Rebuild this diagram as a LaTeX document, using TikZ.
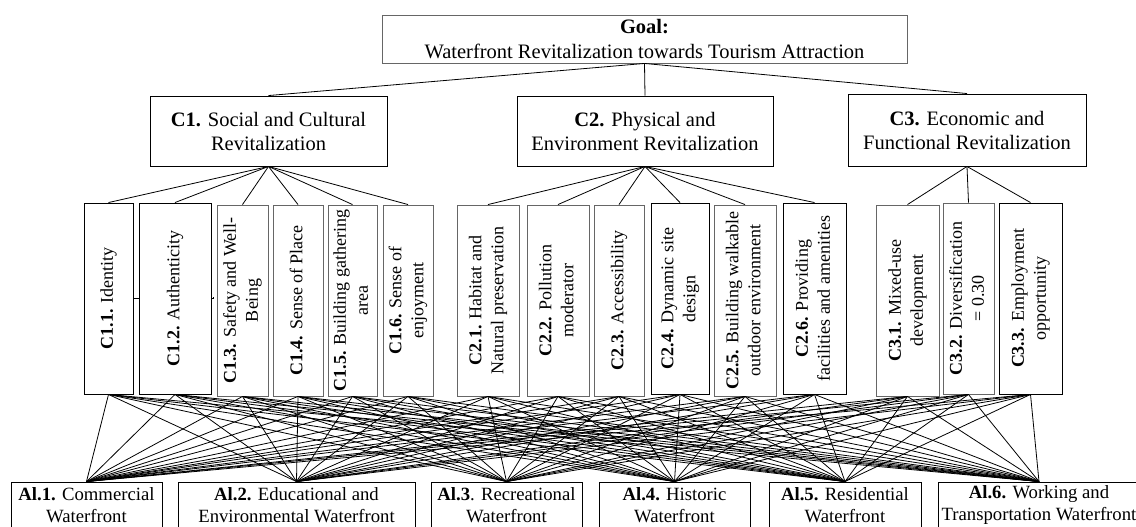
\documentclass[tikz,border=0pt]{standalone}
\usepackage{fontspec}
\usepackage{graphicx}
\setmainfont{Liberation Serif}
\tikzset{
  boxbase/.style={draw=black, line width=0.9pt, inner sep=0pt, align=center, fill=white},
  grayb/.style={boxbase, draw=black!60},
  blackb/.style={boxbase},
  bigtext/.style={font=\fontsize{20.5}{24}\selectfont},
  alttext/.style={font=\fontsize{18.7}{22}\selectfont},
  goaltext/.style={font=\fontsize{20.5}{25}\selectfont},
  conn/.style={draw=black, line width=0.8pt},
}
\newcommand{\mybox}[7]{\node[#6, minimum width={(#4-#2)*1pt}, minimum height={(#5-#3)*1pt}] (#1) at ({(#2+#4)/2},{(#3+#5)/2}) {#7};}
\newcommand{\vtext}[1]{\rotatebox{90}{\fontsize{18}{22}\selectfont\begin{tabular}{@{}c@{}}#1\end{tabular}}}
\begin{document}
\begin{tikzpicture}[x=1pt,y=-1pt]
\useasboundingbox (0,0) rectangle (1136,527);
\clip (0,0) rectangle (1136,527);
% goal
\mybox{goal}{382}{15}{907}{63}{grayb,goaltext}{\textbf{Goal:}\\Waterfront Revitalization towards Tourism Attraction}
% criteria
\mybox{c1}{150}{96}{387}{166}{blackb,bigtext}{\textbf{C1.} Social and Cultural\\Revitalization}
\mybox{c2}{517}{96}{773}{166}{blackb,bigtext}{\textbf{C2.} Physical and\\Environment Revitalization}
\mybox{c3}{848}{94}{1086}{166}{blackb,bigtext}{\textbf{C3.} Economic and\\Functional Revitalization}
% sub-criteria
\mybox{c11}{84}{203}{133}{394}{blackb}{\vtext{\textbf{C1.1.} Identity}}
\mybox{c12}{139}{203}{211}{394}{blackb}{\vtext{\textbf{C1.2.} Authenticity}}
\mybox{c13}{217}{205}{268}{396}{grayb}{\vtext{\textbf{C1.3.} Safety and Well-\\Being}}
\mybox{c14}{273}{205}{323}{396}{grayb}{\vtext{\textbf{C1.4.} Sense of Place}}
\mybox{c15}{328}{205}{377}{396}{grayb}{\vtext{\textbf{C1.5.} Building gathering\\area}}
\mybox{c16}{383}{205}{433}{396}{grayb}{\vtext{\textbf{C1.6.} Sense of\\enjoyment}}
\mybox{c21}{457}{205}{519}{396}{grayb}{\vtext{\textbf{C2.1.} Habitat and\\Natural preservation}}
\mybox{c22}{527}{205}{589}{396}{grayb}{\vtext{\textbf{C2.2.} Pollution\\moderator}}
\mybox{c23}{594}{205}{644}{396}{grayb}{\vtext{\textbf{C2.3.} Accessibility}}
\mybox{c24}{651}{203}{709}{394}{blackb}{\vtext{\textbf{C2.4.} Dynamic site\\design}}
\mybox{c25}{714}{205}{776}{396}{grayb}{\vtext{\textbf{C2.5.} Building walkable\\outdoor environment}}
\mybox{c26}{783}{203}{846}{394}{blackb}{\vtext{\textbf{C2.6.} Providing\\facilities and amenities}}
\mybox{c31}{876}{205}{939}{396}{grayb}{\vtext{\textbf{C3.1.} Mixed-use\\development}}
\mybox{c32}{943}{203}{994}{394}{grayb}{\vtext{\textbf{C3.2.} Diversification\\= 0.30}}
\mybox{c33}{999}{203}{1062}{394}{blackb}{\vtext{\textbf{C3.3.} Employment\\opportunity}}
% alternatives
\mybox{a1}{11}{482}{162}{528}{blackb,alttext}{\textbf{Al.1.} Commercial\\Waterfront}
\mybox{a2}{178}{482}{415}{528}{blackb,alttext}{\textbf{Al.2.} Educational and\\Environmental Waterfront}
\mybox{a3}{431}{482}{582}{528}{blackb,alttext}{\textbf{Al.3}. Recreational\\Waterfront}
\mybox{a4}{599}{482}{750}{528}{blackb,alttext}{\textbf{Al.4.} Historic\\Waterfront}
\mybox{a5}{769}{482}{921}{528}{blackb,alttext}{\textbf{Al.5.} Residential\\Waterfront}
\mybox{a6}{938}{482}{1140}{528}{blackb,alttext}{\textbf{Al.6.} Working and\\Transportation Waterfront}
% connectors
\foreach \c in {c1,c2,c3} \draw[conn] (goal.south) -- (\c.north);
\foreach \s in {c11,c12,c13,c14,c15,c16} \draw[conn] (c1.south) -- (\s.north);
\foreach \s in {c21,c22,c23,c24,c25,c26} \draw[conn] (c2.south) -- (\s.north);
\foreach \s in {c31,c32,c33} \draw[conn] (c3.south) -- (\s.north);
\foreach \s in {c11,c12,c13,c14,c15,c16,c21,c22,c23,c24,c25,c26,c31,c32,c33}
  \foreach \a in {a1,a2,a3,a4,a5,a6}
    \draw[conn] (\s.south) -- (\a.north);
\draw[conn] (c11.east) -- (c12.west);
\draw[conn] (c12.east) -- ++(2,0) -- ++(0,-2);
\end{tikzpicture}
\end{document}
